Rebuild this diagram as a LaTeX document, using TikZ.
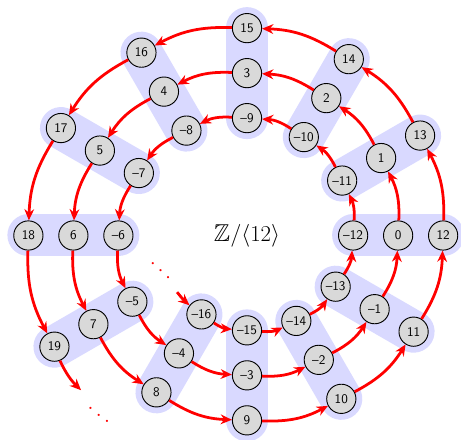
\documentclass[tikz,border=0pt]{standalone}
\usepackage{amssymb}
\usepackage{xcolor}
\definecolor{spokeBg}{HTML}{D9D9FF}
\definecolor{eltBg}{HTML}{D9D9D9}
\usetikzlibrary{arrows.meta,backgrounds}
\tikzset{>={Stealth[length=3mm,width=2.6mm]},
  elt/.style={circle,draw=black,line width=0.7pt,fill=eltBg,minimum size=7.8mm,
    inner sep=0pt,font=\sffamily},
  spoke/.style={draw=spokeBg,line width=11.2mm,line cap=round},
  succ/.style={->,red,line width=2.1pt},
  dotsnode/.style={text=red,inner sep=0pt,scale=1.6}}
% label of an element, with an en dash for the sign
\newcommand{\zlbl}[1]{\ifnum#1<0 --\number\numexpr-#1\relax\else#1\fi}

\begin{document}
\begin{tikzpicture}
  \useasboundingbox (-6.587,-5.453) rectangle (5.707,6.28);
  % the spiral of integers
  \foreach \n in {-16,...,19}
    \node[elt] (z\n) at ({30*\n}:{4.03+0.1*\n}) {\zlbl{\n}};
  % residue classes
  \begin{scope}[on background layer]
    \foreach \n [evaluate=\n as \m using int(\n+24)] in {-16,...,-5}
      \draw[spoke] (z\n.center) -- (z\m.center);
  \end{scope}
  \node (quot) at (0,0) {\fontsize{18.5}{22}\selectfont$\mathbb{Z}/\langle 12\rangle$};
  % successor map
  \foreach \n [evaluate=\n as \m using int(\n+1)] in {-16,...,18}
    \draw[succ] (z\n) to[bend right=15] (z\m);
  \coordinate (from) at (219:2.4);
  \coordinate (onward) at (223:6.05);
  \draw[succ] (from) to[bend right=5] (z-16);
  \draw[succ] (z19) to[bend right=10] (onward);
  \node[dotsnode,rotate=-5] (dotsin) at (-2.29,-0.78) {$\ddots$};
  \node[dotsnode] (dotsout) at (-3.95,-4.62) {$\ddots$};
\end{tikzpicture}
\end{document}
